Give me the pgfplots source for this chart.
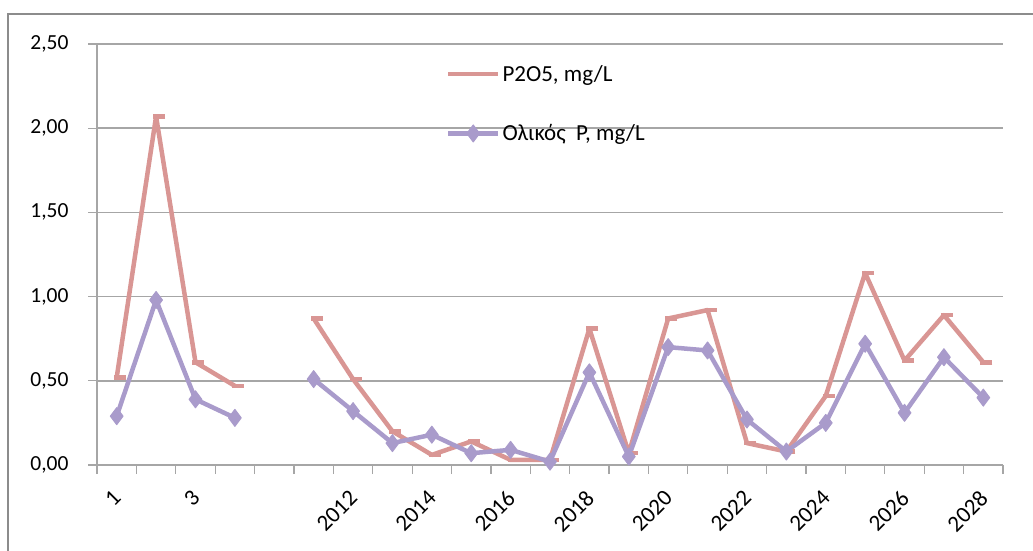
\documentclass[border=0pt]{standalone}
\usepackage{fontspec}
\setmainfont{Carlito}
\usepackage{pgfplots}
\pgfplotsset{compat=1.18}

\definecolor{pfive}{HTML}{D99694}
\definecolor{ptot}{HTML}{A99BCB}
\definecolor{gridc}{HTML}{A6A6A6}
\definecolor{framec}{HTML}{8C8C8C}

\begin{document}
\begin{tikzpicture}[x=1pt,y=1pt]
\clip (0,0) rectangle (1033,551);
% chart frame
\draw[framec, line width=1.2pt] (8,-10) -- (8,537) -- (1045,537);
\begin{axis}[
  at={(97pt,86pt)}, anchor=south west,
  scale only axis, width=906pt, height=421pt,
  xmin=-0.5, xmax=22.5, ymin=0, ymax=2.5,
  axis x line=bottom, axis y line=left,
  axis line style={-, gridc, line width=1.2pt},
  ytick={0,0.5,1,1.5,2,2.5},
  ymajorgrids, grid style={gridc, line width=1.6pt},
  tick align=outside, major tick length=9pt, minor tick length=9pt,
  tick style={gridc, line width=1.2pt},
  major x tick style={draw=none},
  xtick={0,2,...,22},
  xticklabels={1,3,{},2012,2014,2016,2018,2020,2022,2024,2026,2028},
  minor xtick={-0.5,0.5,...,22.5},
  ticklabel style={text=black},
  /pgf/number format/assume math mode=true,
  yticklabel style={font=\fontsize{21.5}{25}\selectfont, xshift=-16pt,
    /pgf/number format/.cd, fixed, fixed zerofill, precision=2, use comma},
  xticklabel style={font=\fontsize{23}{27}\selectfont,
    xshift=-5pt, yshift=-10pt, rotate=45, anchor=north east},
  unbounded coords=jump,
  legend style={draw=none, fill=none, at={(0.385,0.955)}, anchor=north west,
    font=\fontsize{23}{27}\selectfont, row sep=38pt, inner sep=0pt,
    cells={anchor=west}},
  legend image code/.code={\draw[mark repeat=2,mark phase=2,#1]
    plot coordinates {(0pt,0pt) (25pt,0pt) (50pt,0pt)};},
]
\addplot[pfive, line width=4.5pt, line join=round, mark=-, mark size=6pt,
  mark options={xshift=3pt, line width=4.5pt},
  legend image post style={mark=none}]
  coordinates {
  (0,0.52) (1,2.07) (2,0.61) (3,0.47) (4,nan)
  (5,0.87) (6,0.51) (7,0.20) (8,0.06) (9,0.14) (10,0.03) (11,0.03)
  (12,0.81) (13,0.07) (14,0.87) (15,0.92) (16,0.13) (17,0.08)
  (18,0.41) (19,1.14) (20,0.62) (21,0.89) (22,0.61)
};
\addlegendentry{P2O5, mg/L}
\addplot[ptot, line width=4.5pt, line join=round, mark=diamond*, mark size=8.5pt,
  mark options={line width=1pt, fill=ptot}]
  coordinates {
  (0,0.29) (1,0.98) (2,0.39) (3,0.28) (4,nan)
  (5,0.51) (6,0.32) (7,0.13) (8,0.18) (9,0.07) (10,0.09) (11,0.02)
  (12,0.55) (13,0.05) (14,0.70) (15,0.68) (16,0.27) (17,0.08)
  (18,0.25) (19,0.72) (20,0.31) (21,0.64) (22,0.40)
};
\addlegendentry{Ολικός\ \ P, mg/L}
\end{axis}
\end{tikzpicture}
\end{document}
